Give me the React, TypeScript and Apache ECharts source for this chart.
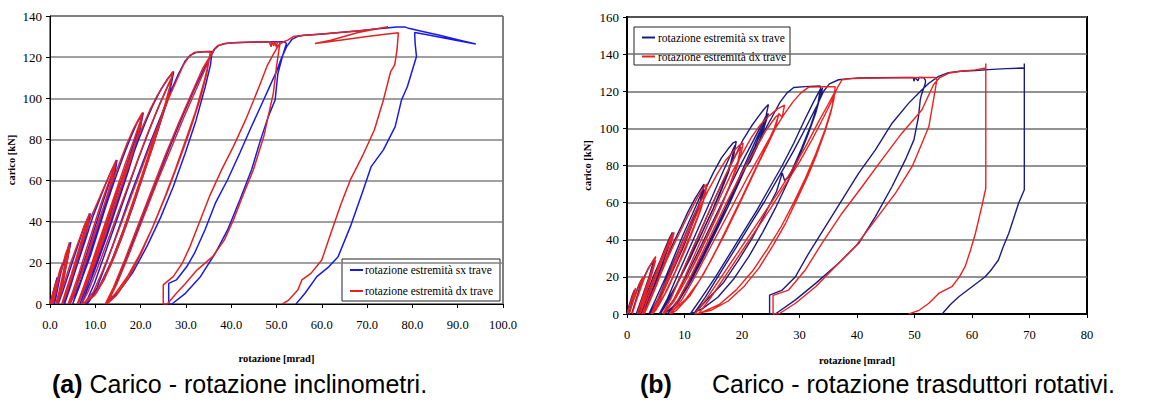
import React, { useEffect, useRef } from "react";
import * as echarts from "echarts";

// ---------- Chart (a): carico - rotazione inclinometri ----------
const aBlue: number[][] = [
  [0,0],[0.6,5],[1.2,10],[1.6,13],[1.0,5],[0.5,0],[1.1,6],[1.8,12],[2.4,17],[2.8,20],[2.0,11],[1.2,2],[0.9,0],[1.6,8],[2.5,16],[3.3,22],[4.0,27],[4.6,30],[3.8,21],[2.8,10],[1.8,0],
  [2.8,6],[4.0,14],[5.2,22],[6.4,30],[7.6,38],[8.4,42],[8.9,44],[8.4,38],[7.2,29],[5.8,19],[4.4,9],[3.0,0],[4.2,9],[5.6,19],[7.0,30],[8.2,38],[8.8,43],[7.8,34],[6.2,21],[4.6,9],[3.2,0],
  [4.4,8],[6.0,19],[7.8,31],[9.4,42],[10.8,50],[12.2,58],[13.6,65],[14.8,70],[14.3,63],[12.8,51],[11.0,38],[9.0,24],[7.0,12],[4.4,0],[5.8,9],[7.6,21],[9.6,35],[11.6,49],[13.4,61],[14.7,69],[13.6,58],[11.6,44],[9.4,29],[7.2,14],[5.0,0],
  [6.4,8],[8.4,21],[10.4,34],[12.4,48],[14.4,61],[16.2,72],[17.8,81],[19.2,88],[20.6,93],[19.8,84],[18.0,71],[15.8,56],[13.6,42],[11.4,28],[9.0,14],[6.6,0],[8.2,9],[10.2,22],[12.4,37],[14.6,52],[16.8,67],[18.8,80],[20.4,91],[19.4,80],[17.2,64],[14.8,48],[12.4,32],[9.8,16],[7.0,0],
  [8.6,9],[10.8,23],[13.0,38],[15.2,53],[17.4,67],[19.4,79],[21.2,89],[22.8,97],[24.4,104],[25.8,109],[27.3,113],[26.6,105],[25.0,93],[23.0,79],[20.8,64],[18.4,48],[15.8,32],[13.2,18],[10.4,6],[7.8,0],[9.8,10],[12.2,25],[14.6,40],[17.0,55],[19.4,70],[21.8,84],[24.0,96],[26.0,106],[27.0,110],[25.8,98],[23.6,83],[21.2,67],[18.8,52],[16.2,36],[13.6,21],[10.8,8],[8.2,0],
  [10.4,8],[12.8,22],[15.2,37],[17.6,52],[20.0,66],[22.4,80],[24.6,92],[26.6,103],[28.4,112],[29.8,118],[31.0,121],[32.2,122.2],[34,122.6],[35.8,122.8],[35.4,116],[34.2,105],[32.2,89],[29.8,73],[27.2,57],[24.4,42],[21.4,28],[18.2,15],[15.2,6],[12.4,0],[14.4,9],[17.2,24],[20.2,41],[23.2,58],[26.2,75],[29.2,91],[32.0,105],[34.4,116],[35.6,121],[36.4,124],[37.2,125.6],
  [38.6,126.6],[40.6,127],[44,127.3],[48,127.4],[50,127.5],[51.6,127.5],[52.2,126.7],
  [51.3,120.3],[50.3,112],[49.7,99.2],[48.2,91.2],[46.5,79.9],[44.5,65.3],[41.9,50.6],[39.2,36],[36.5,24.7],[33.2,13.3],[29.9,5.2],[26.9,0],
  [26.2,0],[26.2,10],[27.9,11.7],[30.2,18.2],[31.9,24.7],[34.2,36],[36.5,49],[39.2,60.4],[41.9,73.4],[44.5,86.4],[47.2,99.4],[48.5,105.8],[50.0,113],[51.0,119],[52.2,125],[53.4,128.6],[54.6,130],[56,130.6],[58,130.9],[61,131.4],[64,132],[67.6,132.7],[71,133.5],[74.3,134.2],[76.5,134.6],[78.3,134.7],[79.2,134],[82,132.6],[86,130.6],[90,128.5],[94,126.4],[91,127.6],[87,129.3],[83,131],[80.5,132],
  [80.6,126.7],[80.9,120.3],[79.9,113],[78.9,105.7],[77.6,99.2],[76.2,86.2],[73.6,74.9],[70.9,66.8],[68.9,53.8],[66.3,37.6],[63.6,23],[61.6,18.2],[58.9,13.3],[56.3,5.2],[54.3,0]
];

const aRed: number[][] = [
  [0,0],[0.5,4],[1.0,8],[1.4,11],[0.9,5],[0.3,0],[0.8,5],[1.4,10],[2.0,15],[2.4,18],[1.8,11],[1.0,3],[0.6,0],[1.2,6],[2.0,13],[2.8,19],[3.4,24],[3.9,27],[4.3,30],[3.6,23],[2.8,14],[2.0,6],[1.3,0],[2.0,6],[2.9,14],[3.7,22],[4.4,29],[3.8,21],[2.8,10],[1.6,0],
  [2.4,5],[3.4,12],[4.4,19],[5.4,25],[6.4,31],[7.4,37],[8.2,41],[8.7,44],[8.2,39],[7.2,31],[6.0,22],[4.8,13],[3.6,5],[2.6,0],[3.6,7],[4.8,15],[6.0,24],[7.2,33],[8.2,40],[8.6,43],[7.8,36],[6.6,27],[5.2,16],[3.8,6],[2.8,0],
  [3.8,6],[5.0,14],[6.4,24],[7.8,34],[9.0,42],[10.2,48],[11.4,54],[12.6,60],[13.6,65],[14.6,70],[14.2,65],[13.2,57],[11.8,47],[10.2,36],[8.6,25],[7.0,15],[5.4,6],[4.0,0],[5.0,6],[6.4,15],[7.8,25],[9.4,36],[11.0,47],[12.6,57],[13.8,64],[14.5,69],[13.8,62],[12.4,51],[10.8,40],[9.0,28],[7.2,16],[5.4,5],[4.4,0],
  [5.6,7],[7.2,17],[9.0,29],[10.8,41],[12.6,52],[14.2,62],[15.6,70],[17.0,78],[18.4,85],[19.6,90],[20.4,93],[20.0,87],[18.8,78],[17.2,67],[15.4,55],[13.4,42],[11.4,30],[9.4,18],[7.6,8],[6.0,0],[7.2,7],[8.8,17],[10.6,29],[12.6,42],[14.6,55],[16.6,68],[18.4,79],[19.8,88],[20.2,91],[19.4,82],[17.8,70],[15.8,57],[13.8,44],[11.8,31],[9.8,19],[7.8,8],[6.2,0],
  [7.6,8],[9.4,19],[11.4,32],[13.4,45],[15.4,58],[17.4,70],[19.2,80],[20.8,88],[22.2,95],[23.6,101],[25.0,106],[26.2,110],[27.1,113],[26.6,107],[25.4,97],[23.8,86],[22.0,74],[20.2,62],[18.2,49],[16.2,36],[14.0,23],[11.8,12],[9.6,4],[7.0,0],[8.4,6],[10.4,17],[12.6,30],[14.8,43],[17.0,56],[19.2,69],[21.4,82],[23.6,94],[25.6,104],[26.8,110],[26.2,102],[24.6,90],[22.8,77],[20.8,64],[18.8,51],[16.6,37],[14.4,24],[12.0,12],[9.8,4],[7.4,0],
  [9.6,6],[11.6,16],[13.8,28],[16.0,41],[18.2,54],[20.4,67],[22.6,80],[24.6,91],[26.4,101],[28.0,109],[29.4,116],[30.6,120],[31.8,122.2],[33.6,122.6],[35.4,122.8],[35.0,117],[34.0,108],[32.2,94],[30.0,80],[27.6,65],[25.0,50],[22.4,36],[19.8,24],[17.0,13],[14.4,5],[12.2,0],[14.0,8],[16.6,22],[19.4,38],[22.4,55],[25.4,72],[28.4,88],[31.2,102],[33.6,114],[35.2,120],[34.6,112],[33.2,100],[31.0,85],[28.4,69],[25.8,54],[23.0,39],[20.2,25],[17.4,13],[14.6,4],[12.6,0],[14.8,10],[17.6,25],[20.6,42],[23.6,59],[26.6,75],[29.6,91],[32.4,105],[34.8,117],[35.6,121],[36.2,123.8],
  [37.0,125.5],[38.4,126.5],[40.4,127],[43,127.2],[46,127.4],[48.4,127.5],[48.8,125],[49.0,127.5],[49.4,125.5],[49.6,127.5],[50.0,124.8],[50.2,127.5],[50.7,127.3],
  [50.7,126],[50.0,115.4],[49.3,102.4],[48.5,94.5],[47.2,81.5],[44.9,65.3],[42.5,52.3],[40.5,40.9],[38.5,31.2],[35.9,23],[32.5,16.6],[29.9,10],[27.9,5.2],[25.9,0],
  [25.0,0],[25.0,9.3],[27.2,13.3],[29.2,19.8],[30.9,27.9],[32.9,39.3],[35.2,52.3],[37.9,65.3],[40.5,76.6],[43.2,89.6],[45.9,104.2],[47.9,115.6],[49.2,121],[50.5,126],[51.6,127.5],
  [52.6,128.4],[53.7,130],[55,130.4],[57,130.8],[60,131.3],[63,131.8],[66,132.4],[69,133],[71.5,133.6],[73.5,134.3],[74.6,134.8],[68,132],[62,128.2],[58.5,126.6],[62,127.6],[66,128.8],[70,130],[73.5,131],[76,131.6],[76.9,131.8],
  [76.6,123.5],[76.1,116.2],[75.2,113],[73.6,99.2],[71.6,84.6],[68.9,71.6],[66.3,60.3],[64.3,49],[62,34.4],[60,21.4],[57.6,14.9],[55.6,11.7],[54.7,6.8],[52.7,1.9],[51.3,0]
];

// ---------- Chart (b): carico - rotazione trasduttori rotativi ----------
const bNavy: number[][] = [
  [0,0],[0.4,5],[0.9,10],[1.3,13],[0.8,6],[0.3,0],[0.8,5],[1.5,11],[2.1,16],[2.6,19],[2.0,12],[1.2,4],[0.8,0],[1.5,7],[2.3,14],[3.0,20],[3.6,24],[4.2,27],[4.8,30],[4.2,24],[3.4,15],[2.4,6],[1.6,0],[2.4,7],[3.4,16],[4.3,24],[4.8,29],[4.0,20],[3.0,10],[2.0,0],
  [2.8,6],[3.8,14],[4.8,22],[5.8,29],[6.7,36],[7.4,41],[7.9,44],[7.5,39],[6.6,31],[5.5,22],[4.4,13],[3.3,5],[2.4,0],[3.4,8],[4.6,18],[5.8,28],[6.8,36],[7.6,42],[7.2,36],[6.2,27],[5.0,17],[3.8,8],[2.8,0],
  [3.8,8],[5.2,18],[6.6,28],[8.0,38],[9.4,47],[10.6,55],[11.8,62],[12.8,67],[13.4,70],[13.2,65],[12.4,57],[11.2,47],[9.8,36],[8.2,25],[6.6,14],[5.0,5],[3.8,0],[5.0,8],[6.6,19],[8.2,31],[9.8,43],[11.4,54],[12.8,64],[13.3,68],[12.6,59],[11.2,48],[9.6,36],[8.0,24],[6.2,12],[4.6,3],[4.0,0],
  [5.4,8],[7.0,20],[8.8,33],[10.6,46],[12.2,57],[13.6,67],[15.0,76],[16.4,84],[17.6,89],[18.4,92],[19.0,93],[18.6,86],[17.6,76],[16.2,65],[14.6,54],[12.8,42],[11.0,30],[9.0,18],[7.0,7],[5.6,0],[7.0,8],[8.8,21],[10.8,35],[12.8,49],[14.8,63],[16.6,76],[18.2,87],[18.8,91],[18.0,81],[16.6,69],[15.0,57],[13.2,45],[11.2,32],[9.2,19],[7.2,7],[5.8,0],
  [7.4,8],[9.4,21],[11.4,35],[13.4,49],[15.4,63],[17.2,75],[18.8,85],[20.2,94],[21.6,101],[23.0,107],[24.0,111],[24.6,112.8],[24.2,107],[23.4,99],[22.2,90],[21.0,82],[20.6,79],[21.4,82],[22.6,90],[23.8,100],[24.6,108],[24.0,104],[22.6,95],[21.0,84],[19.0,70],[17.0,56],[15.0,42],[12.8,28],[10.6,15],[8.4,5],[6.4,0],[8.2,8],[10.4,21],[12.6,35],[14.8,49],[17.0,63],[19.2,77],[21.4,90],[23.4,102],[24.4,108],[23.6,100],[21.8,87],[19.8,73],[17.6,58],[15.4,44],[13.2,30],[11.0,17],[8.8,6],[7.0,0],
  [9.0,8],[11.0,19],[13.2,32],[15.4,46],[17.6,60],[19.8,74],[21.8,86],[23.6,97],[25.2,106],[26.6,114],[27.8,119],[29.0,122],[31,122.5],[33.6,122.8],[33.8,118],[34.0,122],[33.6,117],[32.8,108],[31.4,96],[29.6,82],[27.8,70],[25.8,57],[23.6,44],[21.2,31],[18.6,19],[15.8,9],[13.2,3],[11.0,0],[13,9],[15.4,20],[17.8,32],[20.2,44],[22.6,56],[24.8,68],[27.0,80],[29.0,92],[30.8,104],[32.4,114],[33.6,121],[33.2,113],[32.0,102],[30.2,88],[28.2,74],[27.4,72],[27.0,76],[26.0,66],[24.0,54],[21.8,41],[19.4,29],[16.8,17],[14.0,8],[11.6,0],[13.6,9],[16.2,22],[18.8,35],[21.4,48],[24.0,61],[26.6,75],[29.0,88],[31.2,101],[33.0,112],[34.2,120],[35.2,124],[36.8,126.2],
  [38.6,126.8],[40.3,127.1],[44,127.3],[48,127.4],[49.8,127.4],[49.9,125.4],[50.1,127.4],[50.6,125.6],[50.8,127.4],[51.6,127.4],[51.9,126],
  [51.9,124.4],[51.2,118],[51.0,115.4],[50.7,106.4],[49.9,93.8],[48.4,83],[46.1,68.7],[43.2,52.5],[40.3,38.1],[36.8,27.3],[32.8,16.5],[29.3,7.6],[25.8,0],
  [24.8,0],[24.8,10.2],[27,12.9],[29.3,20.1],[31.6,32.7],[34.5,47.1],[37.4,61.5],[40.3,75.9],[43.2,88.4],[46.1,102.8],[49,113.6],[51.3,120.8],[52.6,124.6],[54.2,128],[55.9,130],[58,130.8],[60.6,131.2],[63.5,131.8],[66,132.2],[68.7,132.5],[69.1,132.4],[69.1,135],[69.1,100],[69.1,66.9],
  [68.1,59.7],[67.2,51],[66.4,43.5],[65.4,36],[64.6,29.1],[63.4,24],[62.3,20.1],[60,14.7],[57.7,9.3],[56.2,5],[54.8,0]
];

const bRed: number[][] = [
  [0,0],[0.5,5],[1.0,10],[1.5,14],[1.0,7],[0.4,0],[1.0,6],[1.7,12],[2.3,17],[2.8,20],[2.2,13],[1.4,5],[0.9,0],[1.6,7],[2.4,14],[3.2,21],[3.8,25],[4.4,28],[5.0,31],[4.4,24],[3.6,15],[2.6,6],[1.8,0],[2.6,8],[3.6,17],[4.5,25],[5.0,29],[4.2,20],[3.2,10],[2.2,0],
  [3.0,6],[4.0,14],[5.0,22],[6.0,30],[7.0,37],[7.7,42],[8.2,44],[7.7,38],[6.8,30],[5.7,21],[4.6,12],[3.5,4],[2.6,0],[3.6,8],[4.8,18],[6.0,28],[7.1,36],[7.9,42],[7.4,35],[6.4,26],[5.2,16],[4.0,7],[3.0,0],
  [4.0,8],[5.4,18],[6.9,29],[8.4,39],[9.8,48],[11.1,56],[12.3,63],[13.3,68],[13.9,70],[13.6,64],[12.8,56],[11.6,46],[10.2,35],[8.6,24],[7.0,13],[5.4,4],[4.2,0],[5.4,8],[7.0,19],[8.6,31],[10.2,43],[11.8,54],[13.2,63],[13.8,68],[13.0,58],[11.6,47],[10.0,35],[8.4,23],[6.6,11],[5.0,2],[4.4,0],
  [5.8,8],[7.4,20],[9.2,33],[11.0,46],[12.6,57],[14.2,67],[15.8,76],[17.2,83],[18.6,88],[19.6,91],[20.2,92],[19.8,86],[19.0,78],[17.6,67],[16.0,55],[14.2,43],[12.2,30],[10.2,18],[8.0,7],[6.2,0],[7.6,8],[9.4,21],[11.4,35],[13.4,49],[15.4,63],[17.2,75],[18.8,85],[19.8,90],[19.2,81],[17.8,69],[16.2,57],[14.4,45],[12.4,32],[10.4,19],[8.2,7],[6.4,0],
  [8.2,8],[10.2,21],[12.2,35],[14.2,49],[16.2,63],[18.2,76],[20.0,86],[21.6,95],[23.2,102],[24.8,107],[26.2,110.5],[27.4,112.6],[27.0,106],[26.4,108],[25.8,100],[24.6,92],[23.0,82],[21.2,70],[19.2,57],[17.0,43],[14.8,30],[12.6,18],[10.2,8],[7.4,0],[9.0,8],[11.2,21],[13.4,35],[15.6,49],[17.8,63],[20.0,76],[22.2,88],[24.2,99],[25.8,106],[26.4,107.5],[25.6,100],[24.0,89],[22.0,76],[20.0,63],[17.8,49],[15.6,35],[13.4,22],[11.0,10],[8.6,2],[7.6,0],
  [9.6,8],[11.8,20],[14.0,33],[16.4,47],[18.8,61],[21.2,75],[23.4,87],[25.4,98],[27.2,107],[28.8,114],[30.2,119],[31.6,122.2],[34,122.4],[36.2,122.4],[36.0,116],[35.4,108],[34.4,98],[33.0,86],[31.4,74],[29.6,62],[27.6,49],[25.4,37],[23.0,25],[20.4,15],[17.6,7],[14.6,2],[11.8,0],[13.8,8],[16.2,19],[18.8,31],[21.4,43],[24.0,55],[26.6,67],[29.0,79],[31.2,91],[33.2,103],[35.0,113],[36.2,120],[35.6,111],[34.4,99],[32.8,86],[31.0,73],[29.0,60],[26.8,47],[24.4,35],[21.8,23],[19.0,13],[16.0,5],[12.4,0],[14.6,9],[17.2,21],[19.8,33],[22.4,45],[25.0,57],[27.6,70],[30.0,82],[32.2,94],[34.2,106],[35.8,116],[36.6,122],[37.4,126.2],
  [39,126.8],[41,127],[45,127.2],[49,127.3],[52,127.4],[53.6,127.4],[53.9,126.2],
  [53.3,115.4],[52.5,101],[51.3,92],[49.6,79.5],[46.7,65.1],[43.2,50.7],[39.7,36.3],[36.2,25.5],[32.8,14.7],[29.3,5.8],[26.4,0],
  [25.4,0],[25.4,10],[28.1,12.9],[31,23.7],[33.9,38.1],[37.4,54.3],[40.9,68.7],[44.3,83],[47.8,97.4],[51.3,110],[53.3,123.5],[54.4,127.4],[56,129.8],[58,130.8],[60.6,131.5],[62.4,132.5],[62.4,135],[62.4,100],[62.4,67.8],
  [61.7,57.9],[60.6,43.5],[59.8,35],[58.8,25.5],[57.8,20],[56.5,14.7],[54.2,11.1],[52.5,5.8],[50.8,2],[49,0]
];

const seriesNames = ["rotazione estremità sx trave", "rotazione estremità dx trave"];
const axisNames = { x: "rotazione [mrad]", y: "carico [kN]" };
const captionA = ["(a)", "Carico - rotazione inclinometri."];
const captionB = ["(b)", "Carico - rotazione trasduttori rotativi."];

const SERIF = "Liberation Serif";
const SANS = "Liberation Sans";

const colA = { sx: "#1a1ae6", dx: "#e32222" };
const colB = { sx: "#1c1c80", dx: "#ee2020" };

const CAP_SIZE = 25;

function legendBox(x: number, y: number, w: number, h: number, rows: number[], colors: string[], lineX: number, textX: number) {
  const children: any[] = [
    { type: "rect", shape: { x, y, width: w, height: h }, style: { fill: "#fff", stroke: "#222", lineWidth: 1 } },
  ];
  rows.forEach((ry, i) => {
    children.push({ type: "line", shape: { x1: lineX, y1: ry, x2: lineX + 13, y2: ry }, style: { stroke: colors[i], lineWidth: 2 } });
    children.push({
      type: "text", x: textX, y: ry,
      style: { text: seriesNames[i], fill: "#000", font: `11.5px ${SERIF}`, verticalAlign: "middle" },
    });
  });
  return { type: "group", z: 100, children };
}

export default function App() {
  const ref = useRef<HTMLDivElement>(null);
  useEffect(() => {
    document.body.style.margin = "0";
    if (!ref.current) return;
    const chart = echarts.init(ref.current, undefined, { renderer: "svg" });
    const axisLabel = { color: "#000", fontFamily: SERIF, fontSize: 13 };
    const nameStyle = { color: "#000", fontFamily: SERIF, fontSize: 10.5, fontWeight: "bold" as const };
    const lineS = (data: number[][], color: string, name: string, idx: number, z: number, w: number) => ({
      type: "line",
      name,
      xAxisIndex: idx,
      yAxisIndex: idx,
      data,
      showSymbol: false,
      symbol: "none",
      z,
      lineStyle: { color, width: w },
      itemStyle: { color },
    });
    chart.setOption({
      animation: false,
      backgroundColor: "#fff",
      textStyle: { fontFamily: SERIF },
      grid: [
        { left: 50, top: 16, width: 453, height: 288, show: true, borderColor: "#000", borderWidth: 1, backgroundColor: "transparent" },
        { left: 627, top: 17, width: 460, height: 297, show: true, borderColor: "#000", borderWidth: 2, backgroundColor: "transparent" },
      ],
      xAxis: [
        {
          type: "value", gridIndex: 0, min: 0, max: 100, interval: 10,
          axisLine: { show: true, onZero: false, lineStyle: { color: "#000", width: 1 } },
          axisTick: { show: true, inside: false, length: 4, lineStyle: { color: "#000" } },
          axisLabel: { ...axisLabel, fontSize: 12.5, margin: 14, formatter: (v: number) => v.toFixed(1) },
          splitLine: { show: false },
          name: axisNames.x, nameLocation: "middle", nameGap: 49, nameTextStyle: nameStyle,
        },
        {
          type: "value", gridIndex: 1, min: 0, max: 80, interval: 10,
          axisLine: { show: true, onZero: false, lineStyle: { color: "#000", width: 2 } },
          axisTick: { show: true, inside: false, length: 4, lineStyle: { color: "#000" } },
          axisLabel: { ...axisLabel, fontSize: 12.5, margin: 14 },
          splitLine: { show: false },
          name: axisNames.x, nameLocation: "middle", nameGap: 41, nameTextStyle: nameStyle,
        },
      ],
      yAxis: [
        {
          type: "value", gridIndex: 0, min: 0, max: 140, interval: 20,
          axisLine: { show: true, onZero: false, lineStyle: { color: "#000", width: 1 } },
          axisTick: { show: true, inside: false, length: 4, lineStyle: { color: "#000" } },
          axisLabel: { ...axisLabel, margin: 8 },
          splitLine: { show: true, lineStyle: { color: "#808080", width: 1.5 } },
          name: axisNames.y, nameLocation: "middle", nameGap: 33, nameTextStyle: nameStyle,
        },
        {
          type: "value", gridIndex: 1, min: 0, max: 160, interval: 20,
          axisLine: { show: true, onZero: false, lineStyle: { color: "#000", width: 2 } },
          axisTick: { show: true, inside: false, length: 4, lineStyle: { color: "#000" } },
          axisLabel: { ...axisLabel, margin: 8 },
          splitLine: { show: true, lineStyle: { color: "#6e6e6e", width: 1.5 } },
          name: axisNames.y, nameLocation: "middle", nameGap: 34, nameTextStyle: nameStyle,
        },
      ],
      series: [
        lineS(aBlue, colA.sx, seriesNames[0], 0, 2, 1.5),
        lineS(aRed, colA.dx, seriesNames[1], 0, 3, 1.5),
        lineS(bNavy, colB.sx, seriesNames[0], 1, 2, 1.4),
        lineS(bRed, colB.dx, seriesNames[1], 1, 3, 1.4),
      ],
      graphic: [
        legendBox(342, 259, 158, 42, [270, 291], [colA.sx, colA.dx], 350, 365),
        legendBox(634, 27, 156, 38, [37.5, 56.5], [colB.sx, colB.dx], 642, 658),
        {
          type: "text", x: 52, y: 384,
          style: {
            text: `{b|${captionA[0]}} ${captionA[1]}`,
            font: `${CAP_SIZE}px ${SANS}`, fill: "#000", verticalAlign: "middle",
            rich: { b: { fontFamily: SANS, fontSize: CAP_SIZE, fontWeight: "bold", fill: "#000" } },
          },
        },
        { type: "text", x: 640, y: 384, style: { text: captionB[0], font: `bold ${CAP_SIZE}px ${SANS}`, fill: "#000", verticalAlign: "middle" } },
        { type: "text", x: 712, y: 384, style: { text: captionB[1], font: `${CAP_SIZE}px ${SANS}`, fill: "#000", verticalAlign: "middle" } },
      ],
    });
    return () => chart.dispose();
  }, []);
  return <div ref={ref} style={{ position: "absolute", left: 0, top: 0, width: 1155, height: 402 }} />;
}
